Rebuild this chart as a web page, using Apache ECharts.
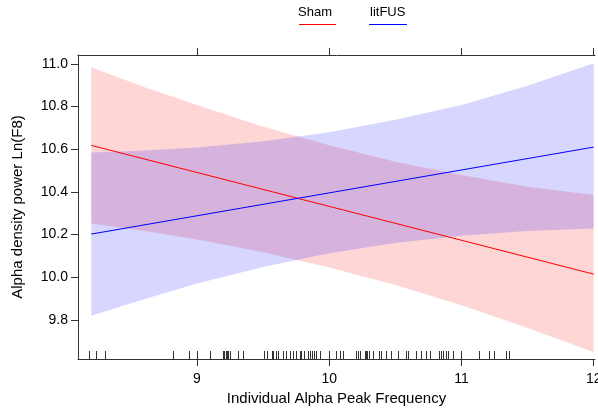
<!DOCTYPE html>
<html>
<head>
<meta charset="utf-8">
<script src="https://cdn.jsdelivr.net/npm/echarts@6/dist/echarts.min.js"></script>
<style>
html,body{margin:0;padding:0;background:#fff;}
#chart{width:598px;height:409px;}
</style>
</head>
<body>
<div id="chart"></div>
<script>
// ---- data ----
const bandX = [8.2, 8.6, 9.0, 9.5, 10.0, 10.5, 11.0, 11.5, 12.0];
const shamUpper = [10.984, 10.892, 10.807, 10.705, 10.619, 10.541, 10.479, 10.424, 10.385];
const shamLower = [10.252, 10.216, 10.177, 10.117, 10.045, 9.963, 9.868, 9.762, 9.648];
const litUpper  = [10.585, 10.594, 10.608, 10.637, 10.680, 10.738, 10.808, 10.898, 11.003];
const litLower  = [9.819, 9.896, 9.970, 10.047, 10.112, 10.160, 10.194, 10.216, 10.228];
const lineX = [8.2, 12.0];
const shamFit = [10.618, 10.014];
const litFit = [10.202, 10.610];
const rugX = [8.18, 8.235, 8.306, 8.82, 8.937, 9.0, 9.10, 9.196, 9.206, 9.218, 9.226, 9.238, 9.25,
  9.313, 9.346, 9.507, 9.532, 9.565, 9.577, 9.597, 9.61, 9.647, 9.672, 9.702, 9.728, 9.748,
  9.778, 9.79, 9.808, 9.841, 9.853, 9.873, 9.883, 9.903, 9.929, 10.0, 10.054, 10.079, 10.105,
  10.205, 10.217, 10.23, 10.267, 10.275, 10.285, 10.30, 10.33, 10.38, 10.393, 10.43, 10.468,
  10.518, 10.58, 10.593, 10.656, 10.694, 10.731, 10.761, 10.832, 10.845, 10.857, 10.882,
  10.895, 10.938, 11.0, 11.134, 11.209, 11.246, 11.334, 11.359];
const xTicks = [9, 10, 11, 12];
const yTicks = [9.8, 10.0, 10.2, 10.4, 10.6, 10.8, 11.0];
const seriesNames = ['Sham', 'litFUS'];

const X_MIN = 8.1, X_MAX = 12.01, Y_MIN = 9.616, Y_MAX = 11.042;
const FONT = "'Liberation Sans', Arial, sans-serif";
const AXIS_COLOR = '#333';

function bandSeries(upper, lower, fill) {
  return {
    type: 'custom',
    data: [0],
    silent: true,
    renderItem: function (params, api) {
      const pts = [];
      for (let i = 0; i < bandX.length; i++) pts.push(api.coord([bandX[i], upper[i]]));
      for (let i = bandX.length - 1; i >= 0; i--) pts.push(api.coord([bandX[i], lower[i]]));
      return { type: 'polygon', shape: { points: pts }, style: { fill: fill, stroke: null } };
    }
  };
}

const chart = echarts.init(document.getElementById('chart'), null, { renderer: 'canvas' });
const option = {
  animation: false,
  backgroundColor: '#fff',
  grid: { left: 78, right: 3, top: 55, bottom: 50, containLabel: false, outerBoundsMode: 'none' },
  xAxis: [{
    type: 'value', position: 'bottom', min: X_MIN, max: X_MAX,
    name: 'Individual Alpha Peak Frequency', nameLocation: 'middle', nameGap: 31,
    nameTextStyle: { fontFamily: FONT, fontSize: 15, color: '#000' },
    axisLine: { show: true, onZero: false, lineStyle: { color: AXIS_COLOR, width: 1 } },
    axisTick: { show: true, inside: false, length: 7, customValues: xTicks, lineStyle: { color: AXIS_COLOR } },
    axisLabel: { show: true, margin: 13, customValues: xTicks, fontFamily: FONT, fontSize: 14, color: '#000',
      formatter: v => String(Math.round(v)) },
    splitLine: { show: false }
  }, {
    type: 'value', position: 'top', min: X_MIN, max: X_MAX,
    axisLine: { show: true, onZero: false, lineStyle: { color: AXIS_COLOR, width: 1 } },
    axisTick: { show: true, inside: false, length: 7, customValues: xTicks, lineStyle: { color: AXIS_COLOR } },
    axisLabel: { show: false },
    splitLine: { show: false }
  }],
  yAxis: {
    type: 'value', min: Y_MIN, max: Y_MAX,
    name: 'Alpha density power Ln(F8)', nameLocation: 'middle', nameGap: 53,
    nameTextStyle: { fontFamily: FONT, fontSize: 15, color: '#000' },
    axisLine: { show: true, onZero: false, lineStyle: { color: AXIS_COLOR, width: 1 } },
    axisTick: { show: true, inside: false, length: 7, customValues: yTicks, lineStyle: { color: AXIS_COLOR } },
    axisLabel: { show: true, margin: 10, customValues: yTicks, fontFamily: FONT, fontSize: 14, color: '#000',
      formatter: v => v.toFixed(1) },
    splitLine: { show: false }
  },
  series: [
    bandSeries(shamUpper, shamLower, 'rgba(255,0,0,0.16)'),
    bandSeries(litUpper, litLower, 'rgba(0,0,255,0.16)'),
    {
      name: seriesNames[0], type: 'line', data: lineX.map((x, i) => [x, shamFit[i]]),
      symbol: 'none', lineStyle: { color: '#ff0000', width: 1 }, silent: true, z: 5
    },
    {
      name: seriesNames[1], type: 'line', data: lineX.map((x, i) => [x, litFit[i]]),
      symbol: 'none', lineStyle: { color: '#0000ff', width: 1 }, silent: true, z: 5
    },
    {
      type: 'custom', data: rugX.map(v => [v]), silent: true, z: 6,
      renderItem: function (params, api) {
        const p = api.coord([api.value(0), Y_MIN]);
        const x = Math.round(p[0]) + 0.5;
        return { type: 'line', shape: { x1: x, y1: p[1], x2: x, y2: p[1] - 8 },
          style: { stroke: '#333', lineWidth: 1 } };
      }
    }
  ],
  graphic: [
    { type: 'text', left: 298, top: 6, style: { text: seriesNames[0], font: '13px ' + FONT, fill: '#000' } },
    { type: 'line', shape: { x1: 299, y1: 24.5, x2: 336, y2: 24.5 }, style: { stroke: '#ff0000', lineWidth: 1 } },
    { type: 'text', left: 370, top: 6, style: { text: seriesNames[1], font: '13px ' + FONT, fill: '#000' } },
    { type: 'line', shape: { x1: 369, y1: 24.5, x2: 407, y2: 24.5 }, style: { stroke: '#0000ff', lineWidth: 1 } }
  ]
};
chart.setOption(option);
</script>
</body>
</html>
